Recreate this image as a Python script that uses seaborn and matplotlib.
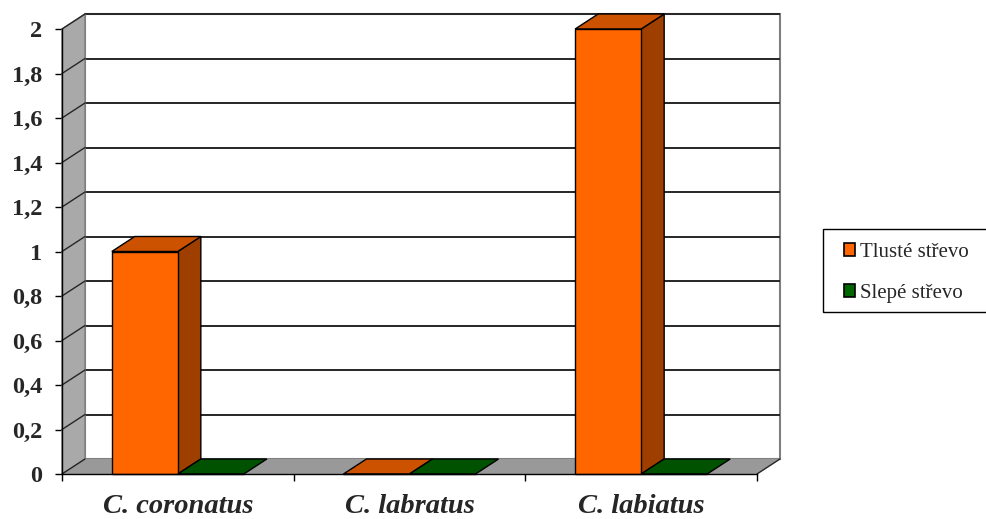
import matplotlib
matplotlib.use("Agg")
import matplotlib.pyplot as plt
from matplotlib.patches import Polygon, Patch, Rectangle
from matplotlib.colors import to_rgb
import seaborn as sns
import pandas as pd

# Data
druhy = ["C. coronatus", "C. labratus", "C. labiatus"]
tluste_strevo = [1, 0, 2]
slepe_strevo = [0, 0, 0]
serie = ["Tlusté střevo", "Slepé střevo"]
barvy = ["#FF6600", "#006600"]
y_ticks = [0, 0.2, 0.4, 0.6, 0.8, 1, 1.2, 1.4, 1.6, 1.8, 2]
y_labels = ["0", "0,2", "0,4", "0,6", "0,8", "1", "1,2", "1,4", "1,6", "1,8", "2"]

df = pd.DataFrame({
    "druh": druhy * 2,
    "strevo": [serie[0]] * 3 + [serie[1]] * 3,
    "hodnota": tluste_strevo + slepe_strevo,
})

sns.set_theme(style="white")
plt.rcParams["font.family"] = ["Liberation Serif", "DejaVu Serif"]

W, H = 987, 519
fig = plt.figure(figsize=(W / 100, H / 100), dpi=100)
left_px, right_px, top_px, bot_px = 62, 757, 29, 474
ax = fig.add_axes([left_px / W, 1 - bot_px / H, (right_px - left_px) / W, (bot_px - top_px) / H])

sns.barplot(data=df, x="druh", y="hodnota", hue="strevo", palette=barvy,
            width=0.57, saturation=1, edgecolor="black", linewidth=1.0,
            legend=False, ax=ax)
ax.set_xlim(-0.5, 2.5)
ax.set_ylim(0, 2)

# depth offset of the 3D box, in data units
DX = 23 / ((right_px - left_px) / 3)
DY = 15 / ((bot_px - top_px) / 2)
x0, x1 = -0.5, 2.5

wall_gray = "#a9a9a9"
edge_gray = "#7f7f7f"

# back wall
ax.add_patch(Polygon([(x0 + DX, DY), (x1 + DX, DY), (x1 + DX, 2 + DY), (x0 + DX, 2 + DY)],
                     closed=True, facecolor="white", edgecolor=edge_gray, lw=1.5,
                     zorder=0.5, clip_on=False))
# left wall
ax.add_patch(Polygon([(x0, 0), (x0, 2), (x0 + DX, 2 + DY), (x0 + DX, DY)],
                     closed=True, facecolor=wall_gray, edgecolor=edge_gray, lw=1.0,
                     zorder=0.6, clip_on=False))
# floor
ax.add_patch(Polygon([(x0, 0), (x1, 0), (x1 + DX, DY), (x0 + DX, DY)],
                     closed=True, facecolor="#999999", edgecolor="none",
                     zorder=0.6, clip_on=False))

# gridlines on back wall + diagonals on left wall
for yv in y_ticks:
    if yv > 0:
        ax.plot([x0 + DX, x1 + DX], [yv + DY, yv + DY], color="#262626", lw=1.4,
                zorder=0.55, clip_on=False, solid_capstyle="butt")
    ax.plot([x0, x0 + DX], [yv, yv + DY], color="#262626", lw=1.0,
            zorder=0.7, clip_on=False)
ax.plot([x1, x1 + DX], [0, DY], color="#262626", lw=1.0, zorder=0.7, clip_on=False)

# 3D faces for every bar
bars = [b for b in ax.patches if hasattr(b, "get_width") and b.get_width() < 0.5]
bars = sorted(bars, key=lambda p: p.get_x())
for i, b in enumerate(bars):
    bx0 = b.get_x()
    bx1 = bx0 + b.get_width()
    h = b.get_height()
    c = to_rgb(b.get_facecolor())
    top_c = tuple(v * 0.8 for v in c)
    side_c = tuple(v * 0.62 for v in c)
    z = 3 + 3 * i
    if h > 0:
        ax.add_patch(Polygon([(bx1, 0), (bx1, h), (bx1 + DX, h + DY), (bx1 + DX, DY)],
                             closed=True, facecolor=side_c, edgecolor="black", lw=1.0,
                             zorder=z, clip_on=False))
    ax.add_patch(Polygon([(bx0, h), (bx1, h), (bx1 + DX, h + DY), (bx0 + DX, h + DY)],
                         closed=True, facecolor=top_c, edgecolor="black", lw=1.0,
                         zorder=z + 1, clip_on=False))
    b.set_zorder(z + 2)
    b.set_clip_on(False)

# axes styling
for s in ["top", "right"]:
    ax.spines[s].set_visible(False)
for s in ["left", "bottom"]:
    ax.spines[s].set_color("black")
    ax.spines[s].set_linewidth(1.0)
    ax.spines[s].set_zorder(50)
ax.patch.set_alpha(0)
ax.grid(False)

ax.set_yticks(y_ticks)
ax.set_yticklabels(y_labels, fontsize=17.5, fontweight="bold")
ax.set_xticks([0, 1, 2])
ax.set_xticklabels(druhy, fontsize=20.5, fontweight="bold", fontstyle="italic")
ax.set_xticks([-0.5, 0.5, 1.5, 2.5], minor=True)
ax.tick_params(axis="y", which="major", direction="out", length=5, width=1, color="black",
               left=True, pad=9)
ax.tick_params(axis="x", which="major", length=0, pad=14.5)
ax.tick_params(axis="x", which="minor", direction="out", length=5, width=1, color="black",
               bottom=True)
ax.set_xlabel("")
ax.set_ylabel("")

# legend: frame drawn in figure pixels, entries placed inside it
fig.patches.append(Rectangle((823 / W, 1 - 312 / H), (995 - 823) / W, (312 - 229) / H,
                             transform=fig.transFigure, facecolor="white",
                             edgecolor="black", lw=1.0, zorder=1))
handles = [Patch(facecolor=barvy[0], edgecolor="black", lw=1.2, label=serie[0]),
           Patch(facecolor=barvy[1], edgecolor="black", lw=1.2, label=serie[1])]
leg = fig.legend(handles=handles, loc="upper left",
                 bbox_to_anchor=(844 / W, 1 - 243 / H), frameon=False,
                 fontsize=15, handlelength=0.55, handleheight=0.55, handletextpad=0.2,
                 labelspacing=1.05, borderpad=0, borderaxespad=0)
leg.set_zorder(2)

fig.savefig("out.png", dpi=100)
